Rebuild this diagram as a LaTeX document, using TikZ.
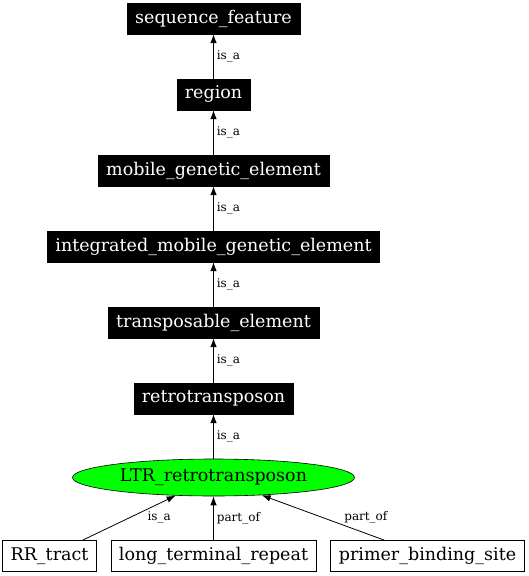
\documentclass[tikz,border=0pt]{standalone}
\usepackage{fontspec}
\setmainfont{DejaVu Serif}
\usetikzlibrary{shapes.geometric,arrows.meta}
\newcommand{\midX}{213.5}
\newcommand{\botY}{556}
\newcommand{\termfont}{\fontsize{17.5}{20}\selectfont}
\newcommand{\relfont}{\fontsize{12}{14}\selectfont}

\begin{document}
\begin{tikzpicture}[x=1pt,y=-1pt,
    term/.style={draw=black,fill=black,text=white,font=\termfont,
        minimum height=31pt,inner xsep=8pt,inner ysep=0pt},
    part/.style={draw=black,fill=white,font=\termfont,line width=0.8pt,
        minimum height=31pt,inner xsep=8pt,inner ysep=0pt},
    focus/.style={ellipse,draw=black,fill=green,font=\termfont,line width=0.6pt,
        minimum width=282pt,minimum height=37pt,inner sep=0pt},
    rel/.style={-{Latex[length=9pt,width=6.5pt]},line width=0.8pt},
    lbl/.style={font=\relfont,inner sep=1pt}]

        \useasboundingbox (0,0) rectangle (528,576);

        % Draw the chain of is_a terms
        \node[term] (sf) at (\midX,18.5) {sequence\_feature};
        \node[term] (reg) at (\midX,94.5) {region};
        \node[term] (mge) at (\midX,170.5) {mobile\_genetic\_element};
        \node[term] (imge) at (\midX,246.5) {integrated\_mobile\_genetic\_element};
        \node[term] (te) at (\midX,322.5) {transposable\_element};
        \node[term] (retro) at (\midX,398.5) {retrotransposon};

        % The term itself
        \node[focus] (ltr) at (\midX,477.5) {LTR\_retrotransposon};

        % Its children
        \node[part] (rr) at (49.5,\botY) {RR\_tract};
        \node[part] (ltrep) at (\midX,\botY) {long\_terminal\_repeat};
        \node[part] (pbs) at (427.5,\botY) {primer\_binding\_site};

        % Edges up the chain
        \draw[rel] (reg) -- (sf) node[midway,right=2pt,lbl] {is\_a};
        \draw[rel] (mge) -- (reg) node[midway,right=2pt,lbl] {is\_a};
        \draw[rel] (imge) -- (mge) node[midway,right=2pt,lbl] {is\_a};
        \draw[rel] (te) -- (imge) node[midway,right=2pt,lbl] {is\_a};
        \draw[rel] (retro) -- (te) node[midway,right=2pt,lbl] {is\_a};
        \draw[rel] (ltr) -- (retro) node[midway,right=2pt,lbl] {is\_a};

        % Edges from the children
        \draw[rel] (rr) -- (ltr) node[midway,right=17pt,lbl] {is\_a};
        \draw[rel] (ltrep) -- (ltr) node[midway,right=2pt,lbl] {part\_of};
        \draw[rel] (pbs) -- (ltr) node[midway,right=20pt,lbl] {part\_of};
    \end{tikzpicture}
\end{document}
